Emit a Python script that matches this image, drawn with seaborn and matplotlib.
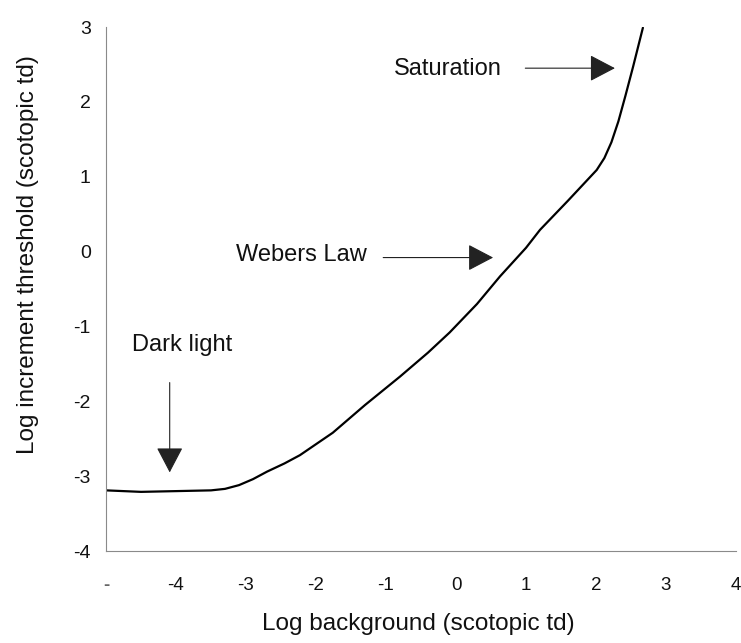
import matplotlib
matplotlib.use("Agg")
import matplotlib.pyplot as plt
import seaborn as sns
import pandas as pd

# Data
log_background = [-5.0, -4.5, -4.0, -3.5, -3.3, -3.1, -2.9, -2.7, -2.45, -2.23,
                  -1.76, -1.3, -0.8, -0.4, -0.09, 0.3, 0.63, 1.0, 1.2, 1.6,
                  1.85, 2.01, 2.12, 2.22, 2.32, 2.42, 2.53, 2.6, 2.67]
log_threshold = [-3.19, -3.21, -3.2, -3.19, -3.17, -3.12, -3.04, -2.94, -2.83, -2.72,
                 -2.42, -2.05, -1.67, -1.35, -1.08, -0.7, -0.33, 0.05, 0.29, 0.68,
                 0.93, 1.09, 1.25, 1.46, 1.74, 2.08, 2.47, 2.73, 2.99]

x_ticks = [-5, -4, -3, -2, -1, 0, 1, 2, 3, 4]
x_tick_labels = ["-", "-4", "-3", "-2", "-1", "0", "1", "2", "3", "4"]
y_ticks = [-4, -3, -2, -1, 0, 1, 2, 3]
y_tick_labels = ["-4", "-3", "-2", "-1", "0", "1", "2", "3"]

annotations = [
    # text, text position, arrow start, arrow tip
    ("Dark light", (-4.63, -1.33), (-4.09, -1.75), (-4.09, -2.95)),
    ("Webers Law", (-3.14, -0.13), (-1.04, -0.08), (0.53, -0.08)),
    ("Saturation", (-0.89, 2.36), (0.99, 2.45), (2.27, 2.45)),
]

sns.set_style("white")
plt.rcParams["font.family"] = ["Liberation Sans", "DejaVu Sans"]
plt.rcParams["axes.unicode_minus"] = False

fig = plt.figure(figsize=(7.41, 6.43), dpi=100)
ax = fig.add_axes([106 / 741, 1 - 551 / 643, 630 / 741, 524 / 643])

df = pd.DataFrame({"x": log_background, "y": log_threshold})
sns.lineplot(data=df, x="x", y="y", ax=ax, color="black", linewidth=1.6,
             estimator=None)
ax.lines[0].set_solid_joinstyle("round")

ax.set_xlim(-5, 4)
ax.set_ylim(-4, 3)
ax.set_xticks(x_ticks)
ax.set_xticklabels(x_tick_labels)
ax.set_yticks(y_ticks)
ax.set_yticklabels(y_tick_labels)

for s in ["top", "right"]:
    ax.spines[s].set_visible(False)
for s in ["left", "bottom"]:
    ax.spines[s].set_color("#8a8a8a")
    ax.spines[s].set_linewidth(0.8)

ax.tick_params(axis="y", direction="inout", length=10, width=0.8,
               color="#8a8a8a", labelsize=14, pad=6, labelcolor="#111111")
ax.tick_params(axis="x", direction="inout", length=8, width=0.8,
               color="#8a8a8a", labelsize=13.5, pad=15, labelcolor="#111111")
ax.get_xticklabels()[0].set_color("#666666")
ax.get_xticklabels()[0].set_fontweight("bold")

ax.set_xlabel("Log background (scotopic td)", fontsize=17.5, color="#111111",
              va="center")
ax.xaxis.set_label_coords((418 - 106) / 630, (551 - 624) / 524)
ax.set_ylabel("Log increment threshold (scotopic td)", fontsize=17.5,
              color="#111111", va="center")
ax.yaxis.set_label_coords((28 - 106) / 630, (551 - 255) / 524)

for text, tpos, start, tip in annotations:
    ax.text(tpos[0], tpos[1], text, fontsize=17, color="#111111",
            ha="left", va="baseline")
    ax.annotate("", xy=tip, xytext=start,
                arrowprops=dict(arrowstyle="-|>,head_length=0.8,head_width=0.42",
                                mutation_scale=20, lw=0.8, color="#222222",
                                shrinkA=0, shrinkB=0))

fig.savefig("out.png", dpi=100)
